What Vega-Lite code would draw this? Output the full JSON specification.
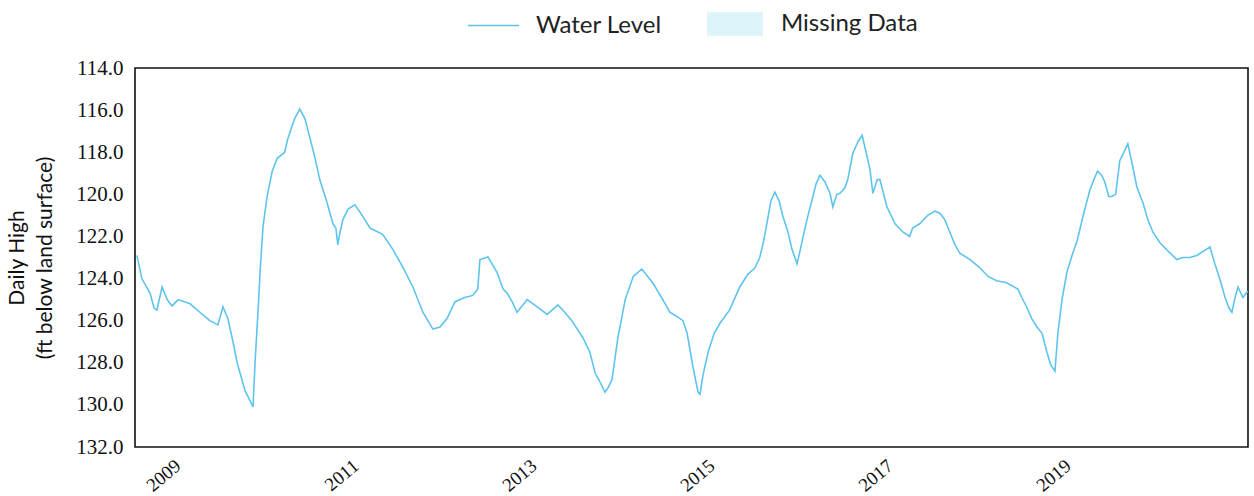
{
  "$schema": "https://vega.github.io/schema/vega-lite/v6.json",
  "width": 1113,
  "height": 379,
  "autosize": "none",
  "padding": {"left": 135, "top": 68, "right": 6, "bottom": 49},
  "background": "white",
  "config": {
    "view": {"stroke": "#111", "strokeWidth": 1.6},
    "axis": {"grid": false, "domain": false, "ticks": false}
  },
  "data": {
    "values": [
      {"date": "2008-07-09", "level": 122.9},
      {"date": "2008-07-29", "level": 124.0},
      {"date": "2008-09-01", "level": 124.7},
      {"date": "2008-09-17", "level": 125.4},
      {"date": "2008-09-29", "level": 125.5},
      {"date": "2008-10-20", "level": 124.4},
      {"date": "2008-11-10", "level": 125.0},
      {"date": "2008-11-30", "level": 125.3},
      {"date": "2008-12-25", "level": 125.0},
      {"date": "2009-02-12", "level": 125.2},
      {"date": "2009-03-24", "level": 125.6},
      {"date": "2009-05-04", "level": 126.0},
      {"date": "2009-06-06", "level": 126.2},
      {"date": "2009-06-27", "level": 125.35},
      {"date": "2009-07-17", "level": 125.9},
      {"date": "2009-08-07", "level": 127.0},
      {"date": "2009-08-24", "level": 128.0},
      {"date": "2009-09-25", "level": 129.3},
      {"date": "2009-10-28", "level": 130.1},
      {"date": "2009-11-06", "level": 127.9},
      {"date": "2009-11-18", "level": 125.5},
      {"date": "2009-11-26", "level": 123.7},
      {"date": "2009-12-08", "level": 121.55},
      {"date": "2009-12-25", "level": 120.1},
      {"date": "2010-01-15", "level": 118.9},
      {"date": "2010-02-04", "level": 118.3},
      {"date": "2010-03-07", "level": 118.0},
      {"date": "2010-03-19", "level": 117.4},
      {"date": "2010-04-17", "level": 116.4},
      {"date": "2010-05-08", "level": 115.95},
      {"date": "2010-05-29", "level": 116.4},
      {"date": "2010-06-18", "level": 117.3},
      {"date": "2010-07-08", "level": 118.2},
      {"date": "2010-07-29", "level": 119.3},
      {"date": "2010-08-28", "level": 120.4},
      {"date": "2010-09-21", "level": 121.4},
      {"date": "2010-10-03", "level": 121.6},
      {"date": "2010-10-11", "level": 122.4},
      {"date": "2010-10-20", "level": 121.8},
      {"date": "2010-11-01", "level": 121.2},
      {"date": "2010-11-22", "level": 120.7},
      {"date": "2010-12-20", "level": 120.5},
      {"date": "2011-01-19", "level": 121.0},
      {"date": "2011-02-20", "level": 121.6},
      {"date": "2011-04-13", "level": 121.9},
      {"date": "2011-05-24", "level": 122.6},
      {"date": "2011-07-04", "level": 123.45},
      {"date": "2011-08-15", "level": 124.4},
      {"date": "2011-09-25", "level": 125.6},
      {"date": "2011-11-05", "level": 126.4},
      {"date": "2011-12-04", "level": 126.3},
      {"date": "2012-01-02", "level": 125.9},
      {"date": "2012-02-04", "level": 125.1},
      {"date": "2012-03-15", "level": 124.9},
      {"date": "2012-04-17", "level": 124.8},
      {"date": "2012-05-07", "level": 124.5},
      {"date": "2012-05-16", "level": 123.1},
      {"date": "2012-06-18", "level": 122.97},
      {"date": "2012-07-25", "level": 123.7},
      {"date": "2012-08-19", "level": 124.5},
      {"date": "2012-09-05", "level": 124.7},
      {"date": "2012-09-25", "level": 125.1},
      {"date": "2012-10-15", "level": 125.6},
      {"date": "2012-11-05", "level": 125.3},
      {"date": "2012-11-26", "level": 125.0},
      {"date": "2013-01-06", "level": 125.35},
      {"date": "2013-02-16", "level": 125.7},
      {"date": "2013-04-01", "level": 125.25},
      {"date": "2013-04-29", "level": 125.6},
      {"date": "2013-05-28", "level": 126.0},
      {"date": "2013-07-12", "level": 126.8},
      {"date": "2013-08-10", "level": 127.5},
      {"date": "2013-09-01", "level": 128.5},
      {"date": "2013-09-20", "level": 128.9},
      {"date": "2013-10-11", "level": 129.4},
      {"date": "2013-10-23", "level": 129.2},
      {"date": "2013-11-09", "level": 128.8},
      {"date": "2013-12-03", "level": 126.8},
      {"date": "2014-01-02", "level": 125.0},
      {"date": "2014-02-04", "level": 123.9},
      {"date": "2014-03-11", "level": 123.55},
      {"date": "2014-04-25", "level": 124.2},
      {"date": "2014-06-05", "level": 125.0},
      {"date": "2014-07-04", "level": 125.6},
      {"date": "2014-08-02", "level": 125.8},
      {"date": "2014-08-27", "level": 126.0},
      {"date": "2014-09-13", "level": 126.6},
      {"date": "2014-10-07", "level": 128.2},
      {"date": "2014-10-28", "level": 129.4},
      {"date": "2014-11-05", "level": 129.5},
      {"date": "2014-11-17", "level": 128.6},
      {"date": "2014-12-08", "level": 127.5},
      {"date": "2015-01-02", "level": 126.6},
      {"date": "2015-01-27", "level": 126.1},
      {"date": "2015-02-15", "level": 125.8},
      {"date": "2015-03-06", "level": 125.5},
      {"date": "2015-04-17", "level": 124.4},
      {"date": "2015-05-20", "level": 123.8},
      {"date": "2015-06-18", "level": 123.5},
      {"date": "2015-07-08", "level": 123.0},
      {"date": "2015-07-24", "level": 122.2},
      {"date": "2015-08-06", "level": 121.4},
      {"date": "2015-08-23", "level": 120.3},
      {"date": "2015-09-08", "level": 119.9},
      {"date": "2015-09-25", "level": 120.3},
      {"date": "2015-10-11", "level": 121.05},
      {"date": "2015-11-01", "level": 121.8},
      {"date": "2015-11-17", "level": 122.6},
      {"date": "2015-12-08", "level": 123.3},
      {"date": "2015-12-20", "level": 122.7},
      {"date": "2016-01-02", "level": 122.0},
      {"date": "2016-01-22", "level": 121.0},
      {"date": "2016-02-08", "level": 120.25},
      {"date": "2016-02-24", "level": 119.5},
      {"date": "2016-03-11", "level": 119.1},
      {"date": "2016-03-31", "level": 119.4},
      {"date": "2016-04-21", "level": 119.95},
      {"date": "2016-05-03", "level": 120.6},
      {"date": "2016-05-19", "level": 120.0},
      {"date": "2016-06-01", "level": 119.95},
      {"date": "2016-06-21", "level": 119.7},
      {"date": "2016-07-03", "level": 119.3},
      {"date": "2016-07-24", "level": 118.05},
      {"date": "2016-08-14", "level": 117.5},
      {"date": "2016-08-31", "level": 117.2},
      {"date": "2016-09-16", "level": 118.0},
      {"date": "2016-10-02", "level": 118.8},
      {"date": "2016-10-14", "level": 119.95},
      {"date": "2016-11-01", "level": 119.3},
      {"date": "2016-11-12", "level": 119.3},
      {"date": "2016-12-11", "level": 120.6},
      {"date": "2017-01-13", "level": 121.4},
      {"date": "2017-02-15", "level": 121.8},
      {"date": "2017-03-14", "level": 122.0},
      {"date": "2017-03-26", "level": 121.6},
      {"date": "2017-04-24", "level": 121.4},
      {"date": "2017-05-27", "level": 121.0},
      {"date": "2017-06-25", "level": 120.8},
      {"date": "2017-07-16", "level": 120.9},
      {"date": "2017-08-05", "level": 121.2},
      {"date": "2017-08-26", "level": 121.8},
      {"date": "2017-09-16", "level": 122.4},
      {"date": "2017-10-06", "level": 122.8},
      {"date": "2017-11-17", "level": 123.1},
      {"date": "2017-12-28", "level": 123.5},
      {"date": "2018-01-30", "level": 123.9},
      {"date": "2018-03-06", "level": 124.1},
      {"date": "2018-04-16", "level": 124.2},
      {"date": "2018-06-01", "level": 124.5},
      {"date": "2018-06-17", "level": 124.9},
      {"date": "2018-07-07", "level": 125.35},
      {"date": "2018-07-28", "level": 125.9},
      {"date": "2018-08-18", "level": 126.3},
      {"date": "2018-09-08", "level": 126.6},
      {"date": "2018-09-28", "level": 127.5},
      {"date": "2018-10-14", "level": 128.1},
      {"date": "2018-10-31", "level": 128.4},
      {"date": "2018-11-12", "level": 126.6},
      {"date": "2018-11-29", "level": 125.0},
      {"date": "2018-12-19", "level": 123.7},
      {"date": "2019-01-09", "level": 122.9},
      {"date": "2019-01-30", "level": 122.2},
      {"date": "2019-02-23", "level": 121.05},
      {"date": "2019-03-23", "level": 119.8},
      {"date": "2019-04-12", "level": 119.2},
      {"date": "2019-04-24", "level": 118.9},
      {"date": "2019-05-11", "level": 119.1},
      {"date": "2019-05-23", "level": 119.4},
      {"date": "2019-06-09", "level": 120.1},
      {"date": "2019-06-21", "level": 120.1},
      {"date": "2019-07-07", "level": 120.0},
      {"date": "2019-07-24", "level": 118.4},
      {"date": "2019-08-14", "level": 117.9},
      {"date": "2019-08-26", "level": 117.6},
      {"date": "2019-09-12", "level": 118.5},
      {"date": "2019-10-02", "level": 119.65},
      {"date": "2019-10-27", "level": 120.4},
      {"date": "2019-11-16", "level": 121.2},
      {"date": "2019-12-07", "level": 121.8},
      {"date": "2020-01-05", "level": 122.3},
      {"date": "2020-02-03", "level": 122.65},
      {"date": "2020-03-14", "level": 123.1},
      {"date": "2020-04-08", "level": 123.0},
      {"date": "2020-05-06", "level": 123.0},
      {"date": "2020-06-04", "level": 122.9},
      {"date": "2020-07-28", "level": 122.5},
      {"date": "2020-08-17", "level": 123.3},
      {"date": "2020-09-07", "level": 124.05},
      {"date": "2020-09-28", "level": 124.9},
      {"date": "2020-10-14", "level": 125.4},
      {"date": "2020-10-26", "level": 125.6},
      {"date": "2020-11-08", "level": 124.9},
      {"date": "2020-11-20", "level": 124.4},
      {"date": "2020-12-10", "level": 124.9},
      {"date": "2020-12-30", "level": 124.6}
    ]
  },
  "encoding": {
    "x": {
      "field": "date",
      "type": "temporal",
      "scale": {"domain": [{"year": 2008, "month": 7, "date": 1}, {"year": 2020, "month": 12, "date": 31}]},
      "axis": {
        "title": null,
        "values": [{"year": 2009}, {"year": 2011}, {"year": 2013}, {"year": 2015}, {"year": 2017}, {"year": 2019}],
        "format": "%Y",
        "labelAngle": -40,
        "labelFont": "Liberation Serif",
        "labelFontSize": 19,
        "labelColor": "#111",
        "labelPadding": 9,
        "labelOffset": -8
      }
    },
    "y": {
      "field": "level",
      "type": "quantitative",
      "scale": {"domain": [114, 132], "reverse": true, "nice": false, "zero": false},
      "axis": {
        "title": ["Daily High", "(ft below land surface)"],
        "values": [114, 116, 118, 120, 122, 124, 126, 128, 130, 132],
        "format": ".1f",
        "labelFont": "Liberation Serif",
        "labelFontSize": 21,
        "labelColor": "#111",
        "labelPadding": 12,
        "titleFont": "Lato",
        "titleFontSize": 21,
        "titleFontWeight": "normal",
        "titleColor": "#111",
        "titleLineHeight": 28,
        "titlePadding": 20
      }
    }
  },
  "layer": [
    {
      "transform": [{"filter": "false"}],
      "mark": {"type": "area"},
      "encoding": {
        "fill": {
          "datum": "Missing Data",
          "type": "nominal",
          "scale": {"domain": ["Missing Data"], "range": ["#dcf4fa"]},
          "legend": {
            "orient": "none",
            "legendX": 572,
            "legendY": -72,
            "direction": "horizontal",
            "title": null,
            "padding": 0,
            "symbolType": "M-1,-0.42L1,-0.42L1,0.42L-1,0.42Z",
            "symbolSize": 3136,
            "symbolStrokeWidth": 0,
            "symbolOpacity": 1,
            "labelFont": "Lato",
            "labelFontSize": 24,
            "labelColor": "#222",
            "labelOffset": 18
          }
        }
      }
    },
    {
      "mark": {"type": "line", "strokeWidth": 1.6},
      "encoding": {
        "color": {
          "datum": "Water Level",
          "type": "nominal",
          "scale": {"domain": ["Water Level"], "range": ["#5ec4ee"]},
          "legend": {
            "orient": "none",
            "legendX": 332,
            "legendY": -69,
            "direction": "horizontal",
            "title": null,
            "padding": 0,
            "symbolType": "stroke",
            "symbolSize": 2601,
            "symbolStrokeWidth": 1.5,
            "labelFont": "Lato",
            "labelFontSize": 24,
            "labelColor": "#222",
            "labelOffset": 16
          }
        }
      }
    }
  ]
}
